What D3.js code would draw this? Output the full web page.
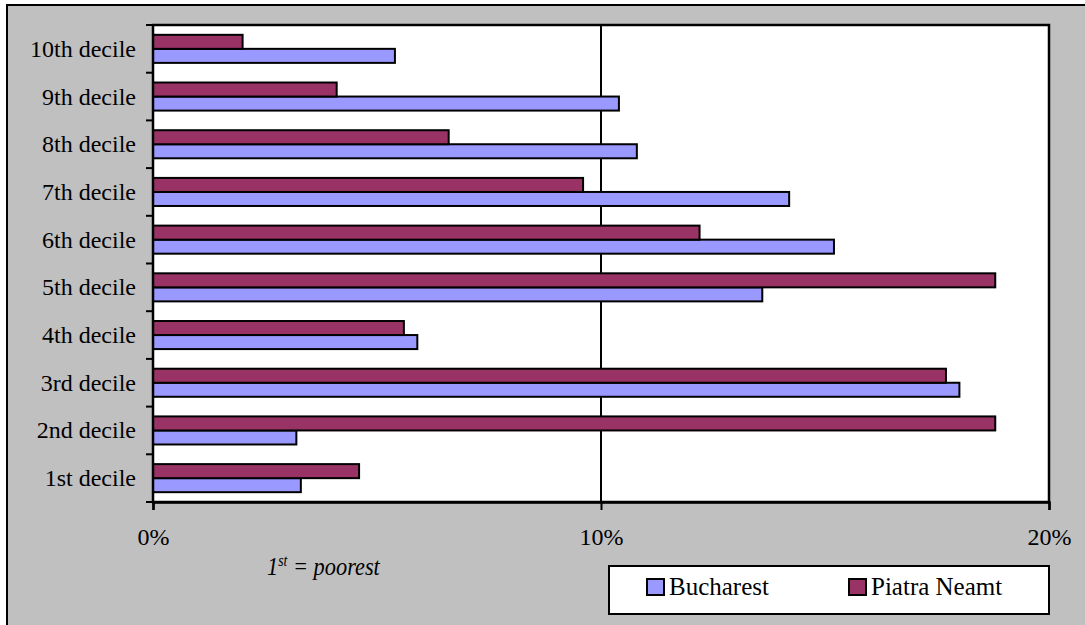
<!DOCTYPE html>
<html><head><meta charset="utf-8">
<script src="https://cdn.jsdelivr.net/npm/d3@7"></script>
<style>body{margin:0;background:#fff}svg{display:block}text{font-family:"Liberation Serif","DejaVu Serif",serif}</style>
</head><body>
<svg id="c" width="1085" height="625"></svg>
<script>
const categories = ["1st decile","2nd decile","3rd decile","4th decile","5th decile","6th decile","7th decile","8th decile","9th decile","10th decile"];
const seriesNames = ["Bucharest","Piatra Neamt"];
const bucharest = [3.3, 3.2, 18.0, 5.9, 13.6, 15.2, 14.2, 10.8, 10.4, 5.4];
const piatraNeamt = [4.6, 18.8, 17.7, 5.6, 18.8, 12.2, 9.6, 6.6, 4.1, 2.0];
const xTicks = [0, 10, 20];

const colors = {"Bucharest":"#9999ff","Piatra Neamt":"#993366"};
const svg = d3.select("#c");
const font = '"Liberation Serif", "DejaVu Serif", serif';

// outer chart area
svg.append("rect").attr("x",7).attr("y",5).attr("width",1100).attr("height",640)
  .attr("fill","#c0c0c0").attr("stroke","#000").attr("stroke-width",2);

const L=153, R=1049, T=25, B=502;
const x = d3.scaleLinear().domain([0,20]).range([L,R]);
const y0 = d3.scaleBand().domain(categories.slice().reverse()).range([T,B]).padding(0);
const y1 = d3.scaleBand().domain(["Piatra Neamt","Bucharest"]).range([0,y0.bandwidth()]).paddingOuter(0.7).paddingInner(0);

svg.append("rect").attr("x",L).attr("y",T).attr("width",R-L).attr("height",B-T).attr("fill","#fff");

// gridlines
svg.append("g").selectAll("line").data(xTicks.filter(d=>d>0)).join("line")
  .attr("x1",d=>x(d)).attr("x2",d=>x(d)).attr("y1",T).attr("y2",B)
  .attr("stroke","#000").attr("stroke-width",2);

// bars
const rows = categories.map((c,i)=>({c, vals:[{s:"Bucharest",v:bucharest[i]},{s:"Piatra Neamt",v:piatraNeamt[i]}]}));
const g = svg.append("g").selectAll("g").data(rows).join("g")
  .attr("transform",d=>`translate(0,${y0(d.c)})`);
g.selectAll("rect").data(d=>d.vals).join("rect")
  .attr("x",x(0)).attr("y",d=>y1(d.s)).attr("width",d=>x(d.v)-x(0)).attr("height",y1.bandwidth())
  .attr("fill",d=>colors[d.s]).attr("stroke","#000").attr("stroke-width",2);

// plot border
svg.append("rect").attr("x",L).attr("y",T).attr("width",R-L).attr("height",B-T)
  .attr("fill","none").attr("stroke","#000").attr("stroke-width",2.5);

// left axis ticks at band boundaries
const bounds = y0.domain().map(c=>y0(c)).concat([B]);
svg.append("g").selectAll("line").data(bounds).join("line")
  .attr("x1",L-7).attr("x2",L).attr("y1",d=>d).attr("y2",d=>d)
  .attr("stroke","#000").attr("stroke-width",2);
svg.append("g").selectAll("text").data(categories).join("text")
  .attr("x",136).attr("y",d=>y0(d)+y0.bandwidth()/2+8)
  .attr("text-anchor","end").style("font-family",font).attr("font-size",24).attr("fill","#000")
  .text(d=>d);

// bottom axis
const ax = svg.append("g").attr("transform",`translate(0,${B})`)
  .call(d3.axisBottom(x).tickValues(xTicks).tickFormat(d=>d+"%").tickSize(8).tickPadding(18));
ax.attr("font-family",null);
ax.select(".domain").attr("stroke","#000").attr("stroke-width",2.5);
ax.selectAll(".tick line").attr("stroke","#000").attr("stroke-width",2);
ax.selectAll(".tick text").style("font-family",font).attr("font-size",24).attr("fill","#000");

// note
const nt = svg.append("text").attr("transform","translate(267,575) scale(0.86,1)")
  .style("font-family",font).attr("font-style","italic").attr("font-size",26).attr("fill","#000");
nt.append("tspan").text("1");
nt.append("tspan").attr("font-size",16).attr("dy",-9).text("st");
nt.append("tspan").attr("dy",9).text(" = poorest");

// legend
const lg = svg.append("g");
lg.append("rect").attr("x",609).attr("y",566).attr("width",440).attr("height",48)
  .attr("fill","#fff").attr("stroke","#000").attr("stroke-width",2);
const lx = d3.scalePoint().domain(seriesNames).range([647,849]);
const li = lg.selectAll("g").data(seriesNames).join("g").attr("transform",d=>`translate(${lx(d)},579)`);
li.append("rect").attr("width",17).attr("height",16).attr("fill",d=>colors[d]).attr("stroke","#000").attr("stroke-width",2);
li.append("text").attr("x",22).attr("y",16).style("font-family",font).attr("font-size",25).attr("fill","#000").text(d=>d);
</script>
</body></html>
